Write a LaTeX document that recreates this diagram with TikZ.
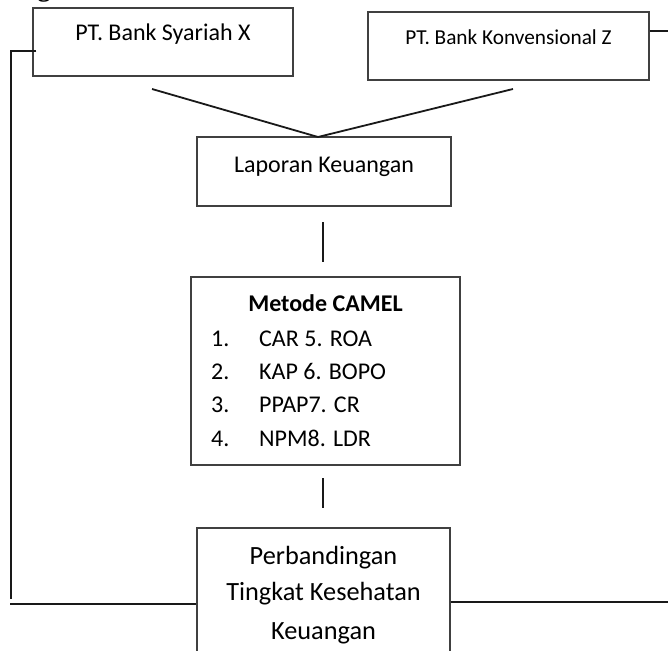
\documentclass[tikz,border=0pt]{standalone}
\usepackage{fontspec}
\setmainfont{Carlito}
\newfontfamily\headfont{Liberation Serif}
\begin{document}
\begin{tikzpicture}[x=1pt,y=-1pt,
  box/.style={draw=black!75, line width=1.2pt, rectangle, inner sep=0pt},
  txt/.style={inner sep=0pt, anchor=base, font=\fontsize{24}{28}\selectfont},
  big/.style={txt, font=\fontsize{26.3}{30}\selectfont},
  conn/.style={draw=black!90, line width=1.8pt}]
\useasboundingbox (0,0) rectangle (668,650);
\clip (0,0) rectangle (668,650);
\fill[white] (0,0) rectangle (668,650);
% cropped heading fragment
\node[inner sep=0pt, anchor=base, font=\headfont\bfseries\fontsize{26}{30}\selectfont] (hd) at (44,-3) {g};
% boxes
\node[box, minimum width=260pt, minimum height=68pt] (A) at (163,42) {};
\node[txt] (At) at (163,41) {PT. Bank Syariah X};
\node[box, minimum width=281pt, minimum height=68pt] (B) at (508.5,46) {};
\node[txt, font=\fontsize{21.3}{25}\selectfont] (Bt) at (508.5,45) {PT. Bank Konvensional Z};
\node[box, minimum width=254pt, minimum height=69pt] (C) at (324,171.5) {};
\node[txt] (Ct) at (324,172) {Laporan Keuangan};
\node[box, minimum width=269pt, minimum height=188pt] (D) at (325.5,371) {};
\node[txt, font=\bfseries\fontsize{24}{28}\selectfont] (Dt) at (325.5,311) {Metode CAMEL};
\foreach \n/\t/\y in {1/CAR 5. ROA/346, 2/KAP 6. BOPO/379, 3/PPAP7. CR/412, 4/NPM8. LDR/446}{
  \node[txt, anchor=base west] (num\n) at (211,\y) {\n.};
  \node[txt, anchor=base west] (it\n) at (259,\y) {\t};
}
\node[box, minimum width=253pt, minimum height=142pt] (E) at (323.5,599) {};
\node[big] (E1) at (323.5,564.5) {Perbandingan};
\node[big] (E2) at (323.5,600.5) {Tingkat Kesehatan};
\node[big] (E3) at (323.5,639.5) {Keuangan};
% connector coordinates
\coordinate (v1) at (152,89);
\coordinate (v2) at (513,89);
\coordinate (vm) at (318,137);
\coordinate (s1a) at (323,222);
\coordinate (s1b) at (323,262);
\coordinate (s2a) at (323,478);
\coordinate (s2b) at (323,508);
\coordinate (la) at (11,51);
\coordinate (lb) at (11,599);
\coordinate (lc) at (10,604);
\coordinate (ra) at (668,31);
\coordinate (rb) at (668,602);
% connectors
\draw[conn] (v1) -- (vm) -- (v2);
\draw[conn] (s1a) -- (s1b);
\draw[conn] (s2a) -- (s2b);
\draw[conn] (A.west |- la) ++(4,0) -- (la) -- (lb);
\draw[conn] (lc) -- (E.west |- lc);
\draw[conn] (B.east |- ra) -- (ra);
\draw[conn] (E.east |- rb) -- (rb);
\end{tikzpicture}
\end{document}
